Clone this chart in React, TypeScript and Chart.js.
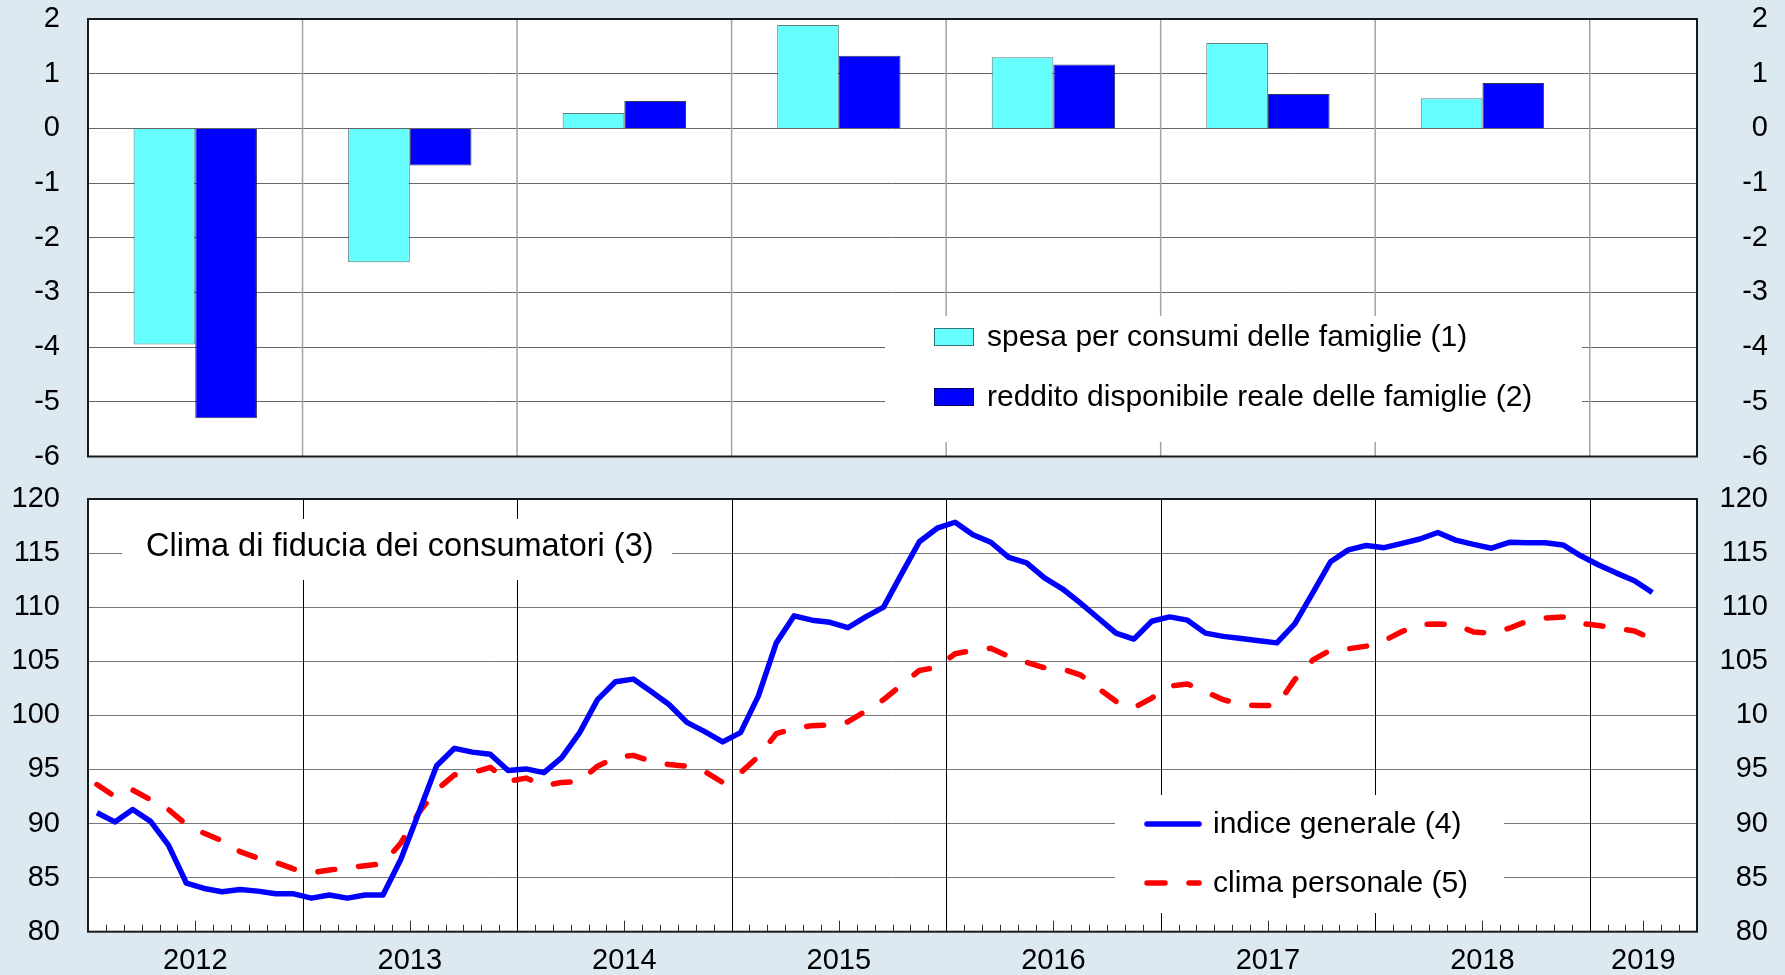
import React, { useEffect, useRef } from 'react';
import { Chart, registerables } from 'chart.js';

Chart.register(...registerables);

// ---------- DATA ----------
const BAR_YEARS = [2012, 2013, 2014, 2015, 2016, 2017, 2018];
const SPESA = [-3.95, -2.45, 0.28, 1.89, 1.3, 1.56, 0.55];
const REDDITO = [-5.3, -0.68, 0.5, 1.33, 1.17, 0.63, 0.83];

// monthly, Jan 2012 .. Apr 2019
const GENERALE = [
  91.0, 90.15, 91.3, 90.2, 88.0, 84.5, 84.0, 83.7, 83.9, 83.75, 83.5, 83.5,
  83.1, 83.4, 83.1, 83.4, 83.4, 86.7, 91.0, 95.35, 96.95, 96.6, 96.4, 94.9,
  95.05, 94.7, 96.1, 98.4, 101.45, 103.1, 103.35, 102.2, 101.0, 99.35, 98.5, 97.55,
  98.4, 101.8, 106.7, 109.2, 108.8, 108.6, 108.1, 109.1, 110.0, 113.05, 116.05, 117.3,
  117.85, 116.7, 116.0, 114.6, 114.1, 112.7, 111.7, 110.4, 109.0, 107.6, 107.05, 108.7,
  109.1, 108.8, 107.6, 107.3, 107.1, 106.9, 106.7, 108.45, 111.3, 114.2, 115.3, 115.7,
  115.5, 115.9, 116.3, 116.9, 116.2, 115.8, 115.45, 116.0, 115.95, 115.95, 115.75, 114.75,
  113.9, 113.15, 112.45, 111.35,
];
const PERSONALE = [
  93.6, 92.5, 93.1, 92.2, 91.3, 89.9, 89.1, 88.4, 87.4, 86.8, 86.4, 85.8,
  85.45, 85.7, 85.9, 86.1, 86.3, 88.2, 91.0, 93.1, 94.5, 94.7, 95.2, 93.9,
  94.2, 93.5, 93.8, 93.9, 95.3, 96.1, 96.3, 95.75, 95.45, 95.3, 94.8, 93.8,
  94.7, 96.2, 98.3, 98.8, 99.05, 99.1, 99.4, 100.4, 101.45, 102.8, 104.15, 104.45,
  105.7, 106.0, 106.2, 105.45, 104.9, 104.4, 104.3, 103.75, 102.5, 101.3, 100.7, 101.6,
  102.7, 102.9, 102.2, 101.45, 101.0, 100.9, 100.9, 103.3, 105.1, 106.05, 106.15, 106.4,
  106.9, 107.75, 108.4, 108.45, 108.4, 107.7, 107.6, 108.05, 108.7, 109.0, 109.1, 108.5,
  108.3, 108.05, 107.8, 107.05,
];

const AXIS_YEAR_LABELS = ['2012', '2013', '2014', '2015', '2016', '2017', '2018', '2019'];
const AXIS_YEAR_CENTERS = [6, 18, 30, 42, 54, 66, 78, 87]; // in months from Jan 2012
const TOTAL_MONTHS = 90;

const BAR_LEGEND = ['spesa per consumi delle famiglie (1)', 'reddito disponibile reale delle famiglie (2)'];
const LINE_LEGEND = ['indice generale (4)', 'clima personale (5)'];
const LINE_TITLE = 'Clima di fiducia dei consumatori (3)';

// ---------- STYLE ----------
const FONT = "'Liberation Sans', Arial, Helvetica, sans-serif";
const BG = '#dce9f1';
const CYAN = '#66ffff';
const BLUE = '#0000ff';
const RED = '#ff0000';
const TOP_CANVAS_H = 480;
const BOT_TOP = 478;
const BOT_CANVAS_H = 975 - BOT_TOP;
const W = 1785;

const tickFont = { family: FONT, size: 29 };

function yAxes(min: number, max: number, step: number, gridColor: string, fmtRight: (v: number) => string) {
  return {
    y: {
      position: 'left' as const,
      min, max,
      ticks: { stepSize: step, color: '#000', font: tickFont, padding: 28, autoSkip: false },
      grid: { color: gridColor, lineWidth: 1, drawTicks: false },
      border: { display: false },
      afterFit: (s: any) => { s.width = 88; s.paddingTop = 0; s.paddingBottom = 0; },
    },
    y2: {
      position: 'right' as const,
      min, max,
      ticks: { stepSize: step, color: '#000', font: tickFont, crossAlign: 'far' as const, autoSkip: false, callback: (v: any) => fmtRight(Number(v)) },
      grid: { display: false, drawTicks: false },
      border: { display: false },
      afterFit: (s: any) => { s.width = 71; s.paddingTop = 0; s.paddingBottom = 0; },
    },
  };
}

const whiteArea = {
  id: 'whiteArea',
  beforeDraw(chart: any) {
    const { ctx, chartArea: ca } = chart;
    ctx.save();
    ctx.fillStyle = '#ffffff';
    ctx.fillRect(ca.left, ca.top, ca.right - ca.left, ca.bottom - ca.top);
    ctx.restore();
  },
};

function drawFrame(chart: any) {
  const { ctx, chartArea: ca } = chart;
  ctx.save();
  ctx.strokeStyle = '#1a1a1a';
  ctx.lineWidth = 2;
  ctx.strokeRect(ca.left, ca.top, ca.right - ca.left, ca.bottom - ca.top);
  ctx.restore();
}

const topPlugin = {
  id: 'topDecor',
  beforeDatasetsDraw(chart: any) {
    const { ctx, chartArea: ca, scales } = chart;
    const x = scales.x;
    ctx.save();
    ctx.strokeStyle = '#a3a3a3';
    ctx.lineWidth = 1.5;
    for (let m = 12; m < TOTAL_MONTHS; m += 12) {
      const px = x.getPixelForValue(m);
      ctx.beginPath();
      ctx.moveTo(px, ca.top);
      ctx.lineTo(px, ca.bottom);
      ctx.stroke();
    }
    // legend box
    ctx.fillStyle = '#ffffff';
    ctx.fillRect(885, 316, 697, 126);
    const rows = [337, 397];
    const cols = [CYAN, BLUE];
    rows.forEach((cy, i) => {
      ctx.fillStyle = cols[i];
      ctx.fillRect(934, cy - 9, 40, 18);
      ctx.strokeStyle = 'rgba(0,0,0,0.55)';
      ctx.lineWidth = 1;
      ctx.strokeRect(934.5, cy - 8.5, 39, 17);
      ctx.fillStyle = '#000';
      ctx.font = `30px ${FONT}`;
      ctx.textAlign = 'left';
      ctx.textBaseline = 'middle';
      ctx.fillText(BAR_LEGEND[i], 987, cy + 1);
    });
    ctx.restore();
  },
  afterDraw: drawFrame,
};

const botPlugin = {
  id: 'botDecor',
  beforeDatasetsDraw(chart: any) {
    const { ctx, chartArea: ca, scales } = chart;
    const x = scales.x;
    ctx.save();
    // year lines
    ctx.strokeStyle = '#000';
    ctx.lineWidth = 1;
    for (let m = 12; m < TOTAL_MONTHS; m += 12) {
      const px = Math.round(x.getPixelForValue(m)) + 0.5;
      ctx.beginPath();
      ctx.moveTo(px, ca.top);
      ctx.lineTo(px, ca.bottom);
      ctx.stroke();
    }
    // monthly ticks
    ctx.strokeStyle = '#333';
    for (let m = 1; m < TOTAL_MONTHS; m++) {
      if (m % 12 === 0) continue;
      const long = m % 12 === 6 || m === 87;
      const px = Math.round(x.getPixelForValue(m)) + 0.5;
      ctx.beginPath();
      ctx.moveTo(px, ca.bottom);
      ctx.lineTo(px, ca.bottom - (long ? 11 : 7));
      ctx.stroke();
    }
    // title box
    const off = BOT_TOP;
    ctx.fillStyle = '#fff';
    ctx.fillRect(122, 519 - off, 550, 61);
    ctx.fillStyle = '#000';
    ctx.font = `32.5px ${FONT}`;
    ctx.textAlign = 'left';
    ctx.textBaseline = 'middle';
    ctx.fillText(LINE_TITLE, 146, 547 - off);
    // legend box
    ctx.fillStyle = '#fff';
    ctx.fillRect(1115, 795 - off, 389, 118);
    const rows = [824 - off, 883 - off];
    ctx.lineWidth = 5.5;
    ctx.lineCap = 'round';
    ctx.strokeStyle = BLUE;
    ctx.beginPath();
    ctx.moveTo(1147, rows[0]);
    ctx.lineTo(1199, rows[0]);
    ctx.stroke();
    ctx.strokeStyle = RED;
    ctx.beginPath();
    ctx.moveTo(1147, rows[1]);
    ctx.lineTo(1165, rows[1]);
    ctx.moveTo(1189, rows[1]);
    ctx.lineTo(1199, rows[1]);
    ctx.stroke();
    ctx.fillStyle = '#000';
    ctx.font = `30px ${FONT}`;
    ctx.fillText(LINE_LEGEND[0], 1213, rows[0] + 1);
    ctx.fillText(LINE_LEGEND[1], 1213, rows[1] + 1);
    // year labels
    ctx.font = `29px ${FONT}`;
    ctx.textAlign = 'center';
    AXIS_YEAR_LABELS.forEach((lab, i) => {
      ctx.fillText(lab, x.getPixelForValue(AXIS_YEAR_CENTERS[i]), 961 - off);
    });
    ctx.restore();
  },
  afterDraw: drawFrame,
};

export default function App() {
  const topRef = useRef<HTMLCanvasElement>(null);
  const botRef = useRef<HTMLCanvasElement>(null);

  useEffect(() => {
    const top = new Chart(topRef.current as HTMLCanvasElement, {
      type: 'bar',
      data: {
        datasets: [
          {
            label: BAR_LEGEND[0],
            data: BAR_YEARS.map((y, i) => ({ x: (y - 2012) * 12 + 6, y: SPESA[i] })),
            backgroundColor: CYAN,
            borderColor: 'rgba(40,80,80,0.75)',
            borderWidth: 1,
            categoryPercentage: 0.575,
            barPercentage: 1,
          },
          {
            label: BAR_LEGEND[1],
            data: BAR_YEARS.map((y, i) => ({ x: (y - 2012) * 12 + 6, y: REDDITO[i] })),
            backgroundColor: BLUE,
            borderColor: 'rgba(0,0,60,0.8)',
            borderWidth: 1,
            categoryPercentage: 0.575,
            barPercentage: 1,
          },
        ],
      },
      options: {
        responsive: false,
        animation: false,
        layout: { padding: { top: 19, bottom: 23.5, left: 0, right: 17 } },
        plugins: { legend: { display: false }, tooltip: { enabled: false } },
        scales: {
          x: {
            type: 'linear', min: 0, max: TOTAL_MONTHS, display: false, offset: false,
            grid: { offset: false },
            ticks: { stepSize: 45 },
          },
          ...yAxes(-6, 2, 1, '#666', (v) => String(v)),
        },
      } as any,
      plugins: [whiteArea, topPlugin],
    });

    const bot = new Chart(botRef.current as HTMLCanvasElement, {
      type: 'line',
      data: {
        datasets: [
          {
            label: LINE_LEGEND[0],
            data: GENERALE.map((v, i) => ({ x: i + 0.5, y: v })),
            borderColor: BLUE,
            borderWidth: 5.5,
            pointRadius: 0,
            tension: 0,
            borderJoinStyle: 'round',
            fill: false,
          },
          {
            label: LINE_LEGEND[1],
            data: PERSONALE.map((v, i) => ({ x: i + 0.5, y: v })),
            borderColor: RED,
            borderWidth: 5.5,
            borderDash: [17, 24],
            borderCapStyle: 'round',
            pointRadius: 0,
            tension: 0,
            borderJoinStyle: 'round',
            fill: false,
          },
        ],
      },
      options: {
        responsive: false,
        animation: false,
        layout: { padding: { top: 21, bottom: 43.3, left: 0, right: 17 } },
        plugins: { legend: { display: false }, tooltip: { enabled: false } },
        scales: {
          x: { type: 'linear', min: 0, max: TOTAL_MONTHS, display: false, offset: false },
          ...yAxes(80, 120, 5, '#777', (v) => (v === 100 ? '10' : String(v))),
        },
      } as any,
      plugins: [whiteArea, botPlugin],
    });

    return () => {
      top.destroy();
      bot.destroy();
    };
  }, []);

  return (
    <div style={{ position: 'fixed', left: 0, top: 0, width: W, height: 975, background: BG, overflow: 'hidden' }}>
      <canvas ref={topRef} width={W} height={TOP_CANVAS_H} style={{ position: 'absolute', left: 0, top: 0, width: W, height: TOP_CANVAS_H }} />
      <canvas ref={botRef} width={W} height={BOT_CANVAS_H} style={{ position: 'absolute', left: 0, top: BOT_TOP, width: W, height: BOT_CANVAS_H }} />
    </div>
  );
}
